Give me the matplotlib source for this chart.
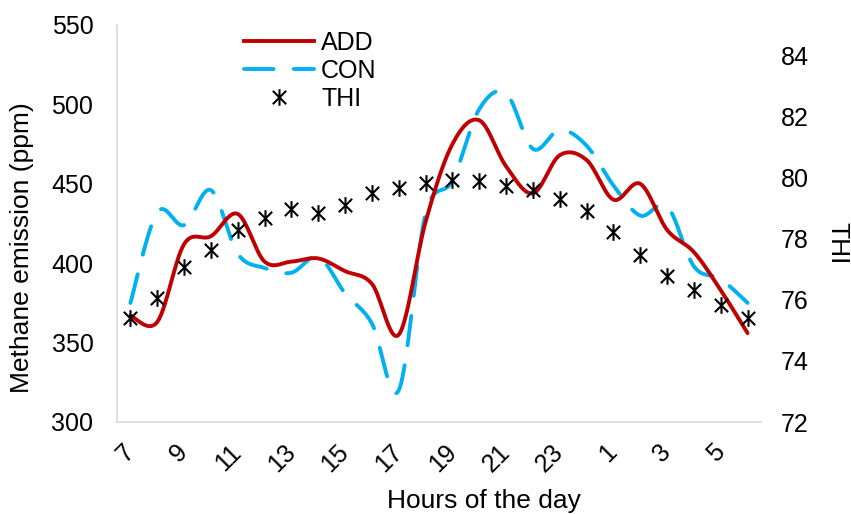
import numpy as np
import matplotlib
matplotlib.use("Agg")
import matplotlib.pyplot as plt
from matplotlib.lines import Line2D
from matplotlib.path import Path

plt.rcParams['font.family'] = ['Liberation Sans', 'DejaVu Sans']

hours = ['7', '8', '9', '10', '11', '12', '13', '14', '15', '16', '17', '18',
         '19', '20', '21', '22', '23', '0', '1', '2', '3', '4', '5', '6']
add = [367, 363, 412, 417, 431, 401, 401, 403, 395, 387, 355, 426,
       475, 490, 461, 444, 468, 465, 440, 450, 421, 407, 383, 356]
con = [375, 432, 424, 446, 406, 397, 394, 404, 381, 362, 320, 431,
       452, 497, 507, 472, 484, 474, 449, 430, 436, 398, 390, 375]
thi = [75.40, 76.05, 77.08, 77.62, 78.28, 78.68, 78.96, 78.86, 79.10, 79.50,
       79.66, 79.81, 79.91, 79.89, 79.72, 79.59, 79.29, 78.91, 78.22, 77.46,
       76.77, 76.33, 75.82, 75.42]
left_ticks = [300, 350, 400, 450, 500, 550]
right_ticks = [72, 74, 76, 78, 80, 82, 84]


def smooth(x, y, n=30):
    x = np.asarray(x, float)
    y = np.asarray(y, float)
    P = np.column_stack([x, y])
    Pp = np.vstack([P[0], P, P[-1]])
    out = []
    t = np.linspace(0, 1, n)[:, None]
    for i in range(len(P) - 1):
        p0, p1, p2, p3 = Pp[i], Pp[i + 1], Pp[i + 2], Pp[i + 3]
        b0 = p1
        b1 = p1 + (p2 - p0) / 6
        b2 = p2 - (p3 - p1) / 6
        b3 = p2
        seg = ((1 - t) ** 3) * b0 + 3 * ((1 - t) ** 2) * t * b1 + 3 * (1 - t) * t ** 2 * b2 + t ** 3 * b3
        out.append(seg if i == 0 else seg[1:])
    out = np.vstack(out)
    return out[:, 0], out[:, 1]


# Excel-style star marker: X plus a vertical bar
star = Path([(0, -1), (0, 1), (-0.8, -0.8), (0.8, 0.8), (-0.8, 0.8), (0.8, -0.8)],
            [Path.MOVETO, Path.LINETO, Path.MOVETO, Path.LINETO, Path.MOVETO, Path.LINETO])
mk = dict(linestyle='none', marker=star, markersize=12, markeredgewidth=1.5,
          color='black', markerfacecolor='none')
dash = (0, (7.6, 5.2))

fig = plt.figure(figsize=(8.51, 5.14), dpi=100)
ax = fig.add_axes([117 / 851, 1 - 422 / 514, 644 / 851, 397 / 514])
ax2 = ax.twinx()

xi = np.arange(len(hours))
sx, sy = smooth(xi, add)
ax.plot(sx, sy, color='#C00000', lw=2.8, solid_capstyle='round', zorder=3)
cx, cy = smooth(xi, con)
ax.plot(cx, cy, color='#00B0F0', lw=2.8, linestyle=dash,
        dash_capstyle='round', zorder=2)
ax2.plot(xi, thi, **mk)

ax.set_xlim(-0.5, len(hours) - 0.5)
ax.set_ylim(300, 550)
ax2.set_ylim(72, 85)
ax.set_yticks(left_ticks)
ax2.set_yticks(right_ticks)
ax.set_xticks(xi[::2])
ax.set_xticklabels(hours[::2], rotation=45, ha='right', va='center',
                   rotation_mode='anchor')

for a in (ax, ax2):
    for s in a.spines.values():
        s.set_visible(False)
    a.tick_params(length=0, labelsize=18)
for side in ('left', 'bottom'):
    ax.spines[side].set_visible(True)
    ax.spines[side].set_color('#D9D9D9')
    ax.spines[side].set_linewidth(1.2)
ax.tick_params(axis='y', pad=17)
ax.tick_params(axis='x', pad=19)
ax2.tick_params(axis='y', pad=14)

ax.set_ylabel('Methane emission (ppm)', fontsize=19, va='center', ha='center')
ax.yaxis.set_label_coords(-0.1475, 0.44)
ax.set_xlabel('Hours of the day', fontsize=19, va='center', ha='center')
ax.xaxis.set_label_coords(0.57, -0.198)
ax2.set_ylabel('THI', fontsize=19, rotation=270, va='center', ha='center')
ax2.yaxis.set_label_coords(1.118, 0.45)

handles = [
    Line2D([], [], color='#C00000', lw=2.8),
    Line2D([], [], color='#00B0F0', lw=2.8, linestyle=dash, dash_capstyle='round'),
    Line2D([], [], **mk),
]
fig.legend(handles, ['ADD', 'CON', 'THI'], loc='upper left',
           bbox_to_anchor=(244 / 851, 1 - 31 / 514), frameon=False,
           fontsize=18, handlelength=2.8, handletextpad=0.28, labelspacing=0.15,
           borderpad=0, borderaxespad=0)

fig.savefig('out.png', dpi=100)
